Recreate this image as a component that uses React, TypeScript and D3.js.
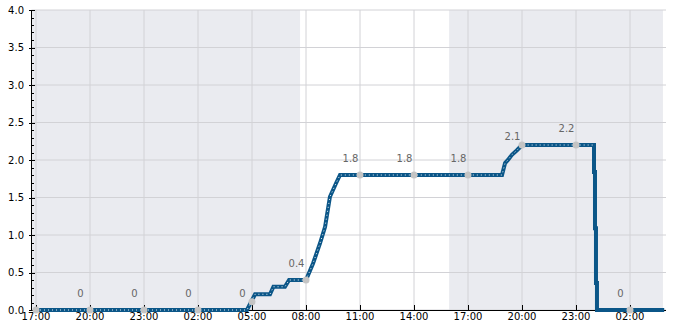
import React from "react";
import * as d3 from "d3";

// Hours since 17:00 on the first day
const seriesHours = [
  0, 11.72, 12.17, 13.0, 13.19, 13.83, 14.06, 15.0, 15.39, 15.78, 16.06, 16.33, 16.67, 16.89,
  25.89, 26.06, 26.22, 26.44, 26.72, 27.0, 31.0, 31.0, 31.055, 31.055, 31.11, 31.11, 31.165, 31.165, 34.9,
];
const seriesValues = [
  0, 0, 0.21, 0.21, 0.31, 0.31, 0.4, 0.4, 0.62, 0.89, 1.11, 1.51, 1.69, 1.8,
  1.8, 1.96, 2.0, 2.07, 2.13, 2.2, 2.2, 1.84, 1.84, 1.09, 1.09, 0.36, 0.36, 0, 0,
];

const tickHours = [0, 3, 6, 9, 12, 15, 18, 21, 24, 27, 30, 33];
const tickLabels = ["17:00", "20:00", "23:00", "02:00", "05:00", "08:00", "11:00", "14:00", "17:00", "20:00", "23:00", "02:00"];
const markerValues = [0, 0, 0, 0, 0.11, 0.4, 1.8, 1.8, 1.8, 2.2, 2.2, 0];
const pointLabels = ["", "0", "0", "0", "0", "0.4", "1.8", "1.8", "1.8", "2.1", "2.2", "0"];
const labelValues = [0, 0, 0, 0, 0, 0.4, 1.8, 1.8, 1.8, 2.1, 2.2, 0];

const shadedRanges: [number, number][] = [
  [-0.25, 14.67],
  [22.95, 34.83],
];

const yMajor = [0, 0.5, 1, 1.5, 2, 2.5, 3, 3.5, 4];

export default function App() {
  const width = 685;
  const height = 330;
  const x = d3.scaleLinear().domain([-0.25, 35.0]).range([31.5, 666]);
  const y = d3.scaleLinear().domain([0, 4]).range([310, 10]);

  const pts = seriesHours.map((h, i) => ({ h, v: seriesValues[i], i }));
  const line = d3
    .line<{ h: number; v: number; i: number }>()
    .x((d) => x(d.h))
    .y((d) => y(d.v));
  const overlay = d3
    .line<{ h: number; v: number; i: number }>()
    .defined((d) => !(d.i >= 21 && d.i <= 27))
    .x((d) => x(d.h))
    .y((d) => y(d.v));

  const yMinor = d3.range(0, 41).map((k) => k / 10).filter((v) => Math.abs(v * 2 - Math.round(v * 2)) > 1e-6);
  const font = "DejaVu Sans, sans-serif";
  const lineColor = "#0b5688";

  return (
    <svg width={width} height={height} style={{ position: "absolute", left: 0, top: 0 }} fontFamily={font}>
      <rect x={0} y={0} width={width} height={height} fill="#ffffff" />
      {shadedRanges.map(([a, b], i) => (
        <rect key={i} x={x(a)} y={y(4)} width={x(b) - x(a)} height={y(0) - y(4)} fill="#eaebf0" />
      ))}
      {yMajor.map((v) => (
        <line key={"gy" + v} x1={x.range()[0]} x2={666} y1={y(v)} y2={y(v)} stroke="#d2d2d6" strokeWidth={1} />
      ))}
      {tickHours.map((h) => (
        <line key={"gx" + h} x1={x(h)} x2={x(h)} y1={y(4)} y2={y(0)} stroke="#d2d2d6" strokeWidth={1} />
      ))}
      {/* axes */}
      <line x1={31.5} x2={31.5} y1={y(4)} y2={y(0)} stroke="#000" strokeWidth={1} />
      <line x1={31} x2={666} y1={310.5} y2={310.5} stroke="#000" strokeWidth={1} />
      {yMajor.map((v) => (
        <g key={"yt" + v}>
          <line x1={29} x2={35} y1={Math.round(y(v)) + 0.5} y2={Math.round(y(v)) + 0.5} stroke="#000" />
          <text x={24} y={y(v)} textAnchor="end" dominantBaseline="central" fontSize={10} fill="#000">
            {v.toFixed(1)}
          </text>
        </g>
      ))}
      {yMinor.map((v) => (
        <line key={"ym" + v} x1={31} x2={34} y1={Math.round(y(v)) + 0.5} y2={Math.round(y(v)) + 0.5} stroke="#000" />
      ))}
      {tickHours.map((h, i) => (
        <g key={"xt" + i}>
          <line x1={Math.round(x(h)) + 0.5} x2={Math.round(x(h)) + 0.5} y1={305} y2={310} stroke="#000" />
          <text x={x(h)} y={320} textAnchor="middle" fontSize={10} fill="#000">
            {tickLabels[i]}
          </text>
        </g>
      ))}
      {/* series */}
      <path d={line(pts) || ""} fill="none" stroke={lineColor} strokeWidth={4} strokeLinejoin="miter" />
      <path d={overlay(pts) || ""} fill="none" stroke="#ffffff" strokeWidth={1} strokeDasharray="1 3" opacity={0.9} />
      {tickHours.map((h, i) => (
        <circle key={"m" + i} cx={x(h)} cy={y(markerValues[i])} r={3.5} fill="#c4c4c4" />
      ))}
      {tickHours.map((h, i) =>
        pointLabels[i] ? (
          <text key={"l" + i} x={x(h) - 9.5} y={y(labelValues[i]) - 13} textAnchor="middle" fontSize={10} fill="#666">
            {pointLabels[i]}
          </text>
        ) : null
      )}
    </svg>
  );
}
